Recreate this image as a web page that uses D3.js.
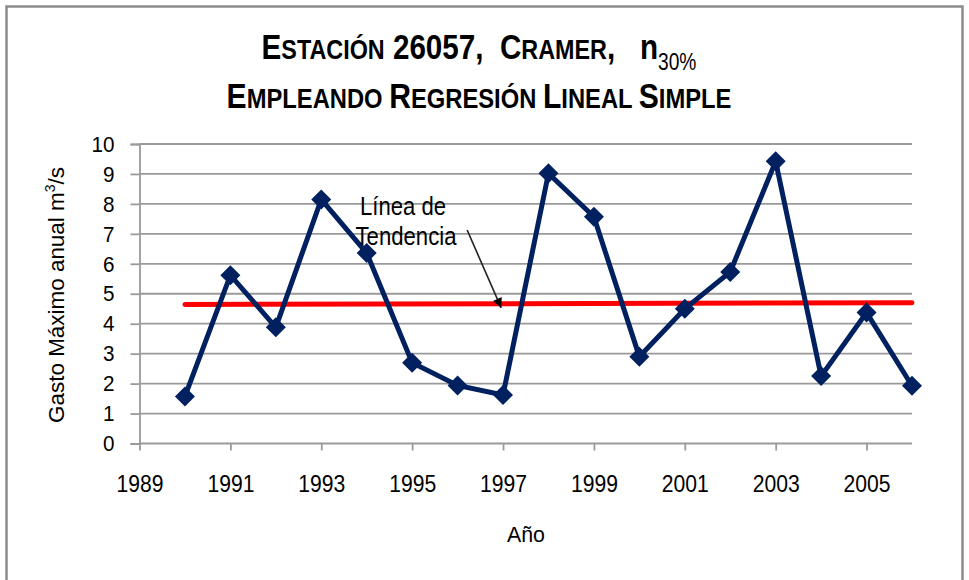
<!DOCTYPE html>
<html>
<head>
<meta charset="utf-8">
<script src="https://cdn.jsdelivr.net/npm/d3@7"></script>
<style>
  html, body { margin: 0; padding: 0; background: #fff; }
  svg { display: block; }
  text { font-family: "Liberation Sans", Arial, sans-serif; fill: #000; }
</style>
</head>
<body>
<svg id="chart" width="969" height="580"></svg>
<script>
// Annual maximum discharge, station 26057 (Cramer)
const years = [1990, 1991, 1992, 1993, 1994, 1995, 1996, 1997, 1998, 1999,
               2000, 2001, 2002, 2003, 2004, 2005, 2006];
const gasto = [1.57, 5.62, 3.88, 8.15, 6.36, 2.70, 1.94, 1.62, 9.02, 7.57,
               2.90, 4.50, 5.73, 9.42, 2.25, 4.37, 1.93];
// Fitted linear trend, value at first and last year
const tendencia = [4.64, 4.70];
const yTicks = [0, 1, 2, 3, 4, 5, 6, 7, 8, 9, 10];
const xTicks = [1989, 1991, 1993, 1995, 1997, 1999, 2001, 2003, 2005];

const svg = d3.select("#chart");
const W = 969, H = 580;

// squeeze a text element horizontally about a fixed x so it spans `width`
function fitWidth(textSel, cx, width) {
  const len = textSel.node().getComputedTextLength();
  const s = width / len;
  textSel.attr("transform", `translate(${cx},0) scale(${s},1) translate(${-cx},0)`);
}

// chart frame
svg.append("rect")
  .attr("x", 6.5).attr("y", 6.5)
  .attr("width", W - 13).attr("height", H)
  .attr("fill", "#fff").attr("stroke", "#8c8c8c").attr("stroke-width", 2.5);

const x = d3.scaleLinear().domain([1989, 2006]).range([139.5, 912]);
const y = d3.scaleLinear().domain([0, 10]).range([443.5, 144]);

const gridColor = "#9a9a9a";

// horizontal gridlines
svg.append("g")
  .selectAll("line")
  .data(yTicks.filter(d => d > 0))
  .join("line")
  .attr("x1", x(1989)).attr("x2", x(2006))
  .attr("y1", d => y(d)).attr("y2", d => y(d))
  .attr("stroke", gridColor).attr("stroke-width", 1.8);

// y axis
const yAxis = svg.append("g")
  .attr("transform", `translate(${x(1989)},0)`)
  .call(d3.axisLeft(y).tickValues(yTicks).tickSize(9).tickPadding(16).tickFormat(d3.format("d")));
yAxis.select(".domain").attr("stroke", gridColor).attr("stroke-width", 1.8);
yAxis.selectAll(".tick line").attr("stroke", gridColor).attr("stroke-width", 1.8);
yAxis.selectAll(".tick text").attr("font-size", 22.5).attr("fill", "#000")
  .style("font-family", "'Liberation Sans', Arial, sans-serif")
  .attr("transform", "scale(0.92,1)").attr("x", -25 / 0.92);

// x axis
const xAxis = svg.append("g")
  .attr("transform", `translate(0,${y(0)})`)
  .call(d3.axisBottom(x).tickValues(xTicks).tickSize(7).tickPadding(24).tickFormat(d3.format("d")));
xAxis.select(".domain").attr("stroke", gridColor).attr("stroke-width", 1.8)
  .attr("d", `M${x(1989)},0H${x(2006)}`);
xAxis.selectAll(".tick line").attr("stroke", gridColor).attr("stroke-width", 1.8);
xAxis.selectAll(".tick text").attr("font-size", 24).attr("fill", "#000")
  .style("font-family", "'Liberation Sans', Arial, sans-serif")
  .attr("transform", "scale(0.88,1)");

// trend line
svg.append("line")
  .attr("x1", x(years[0])).attr("y1", y(tendencia[0]))
  .attr("x2", x(years[years.length - 1])).attr("y2", y(tendencia[1]))
  .attr("stroke", "#ff0000").attr("stroke-width", 5).attr("stroke-linecap", "round");

// series line
const navy = "#002060";
svg.append("path")
  .datum(years.map((yr, i) => [yr, gasto[i]]))
  .attr("d", d3.line().x(d => x(d[0])).y(d => y(d[1])))
  .attr("fill", "none").attr("stroke", navy).attr("stroke-width", 5)
  .attr("stroke-linejoin", "miter");

// diamond markers
const diamond = d3.symbol().type(d3.symbolSquare).size(200);
svg.append("g")
  .selectAll("path")
  .data(years.map((yr, i) => [yr, gasto[i]]))
  .join("path")
  .attr("d", diamond)
  .attr("transform", d => `translate(${x(d[0])},${y(d[1])}) rotate(45)`)
  .attr("fill", navy);

// annotation arrow
svg.append("defs").append("marker")
  .attr("id", "head").attr("viewBox", "0 0 10 10")
  .attr("refX", 10).attr("refY", 5)
  .attr("markerWidth", 7).attr("markerHeight", 6)
  .attr("markerUnits", "strokeWidth")
  .attr("orient", "auto")
  .append("path").attr("d", "M0,0L10,5L0,10z").attr("fill", "#000");

svg.append("line")
  .attr("x1", x(1996.21)).attr("y1", y(7.13))
  .attr("x2", x(1996.96)).attr("y2", y(4.53))
  .attr("stroke", "#222").attr("stroke-width", 1.6)
  .attr("marker-end", "url(#head)");

const note1 = svg.append("text").attr("text-anchor", "middle").attr("font-size", 25)
  .attr("x", 403).attr("y", 215).text("Línea de");
fitWidth(note1, 403, 86);
const note2 = svg.append("text").attr("text-anchor", "middle").attr("font-size", 25)
  .attr("x", 406).attr("y", 245.5).text("Tendencia");
fitWidth(note2, 406, 101);

// axis titles
const xt = svg.append("text")
  .attr("x", 526).attr("y", 542)
  .attr("text-anchor", "middle").attr("font-size", 22)
  .text("Año");
fitWidth(xt, 526, 38);

const yt = svg.append("text")
  .attr("transform", `translate(64,295) rotate(-90)`)
  .attr("text-anchor", "middle").attr("font-size", 22.5);
yt.append("tspan").text("Gasto Máximo anual  m");
yt.append("tspan").attr("font-size", 14).attr("dy", -9).text("3");
yt.append("tspan").attr("dy", 9).text("/s");
{
  const len = yt.node().getComputedTextLength();
  yt.attr("transform", `translate(64,295) rotate(-90) scale(${256 / len},1)`);
}

// title, small-caps style
const big = 35.5, small = 28;
const t1 = svg.append("text").attr("x", 479).attr("y", 59).attr("text-anchor", "middle")
  .attr("font-weight", "bold").style("white-space", "pre");
[["E", big], ["STACIÓN", small], [" 26057,  ", big], ["C", big], ["RAMER", small], [",   n", big]]
  .forEach(([txt, size]) => t1.append("tspan").attr("font-size", size).text(txt));
t1.append("tspan").attr("font-size", 23).attr("font-weight", "normal").attr("dy", 11).text("30%");
fitWidth(t1, 479, 435);

const t2 = svg.append("text").attr("x", 479).attr("y", 108).attr("text-anchor", "middle")
  .attr("font-weight", "bold").style("white-space", "pre");
[["E", big], ["MPLEANDO ", small], ["R", big], ["EGRESIÓN ", small],
 ["L", big], ["INEAL ", small], ["S", big], ["IMPLE", small]]
  .forEach(([txt, size]) => t2.append("tspan").attr("font-size", size).text(txt));
fitWidth(t2, 479, 505);
</script>
</body>
</html>
